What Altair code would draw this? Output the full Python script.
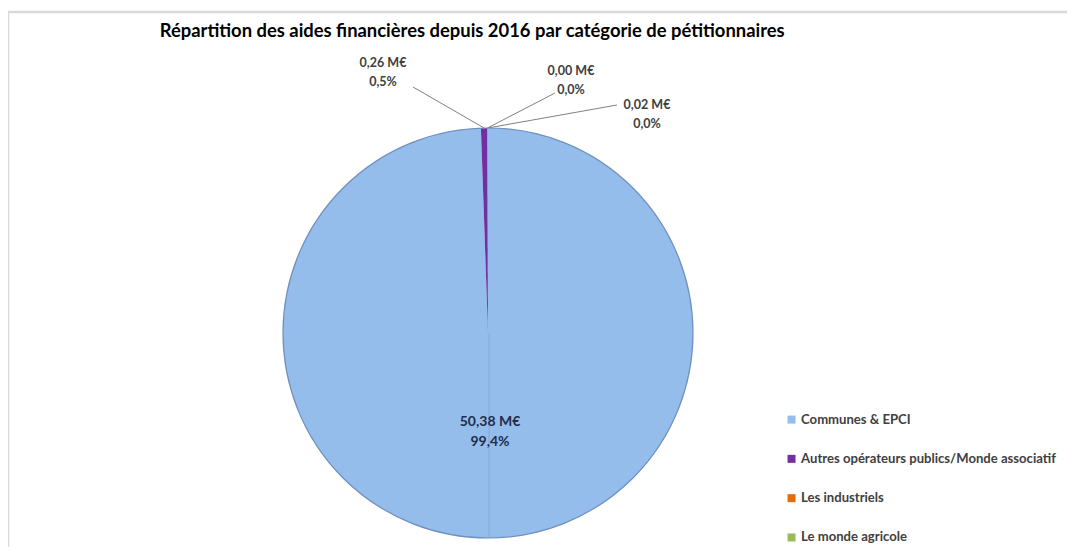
import math
import altair as alt
import pandas as pd

# ---- data ----
categories = ["Communes & EPCI",
              "Autres opérateurs publics/Monde associatif",
              "Les industriels",
              "Le monde agricole"]
values_meur = [50.38, 0.26, 0.00, 0.02]
colors = ["#95bdec", "#7030a0", "#e46c0a", "#9bbb59"]

title_text = "Répartition des aides financières depuis 2016 par catégorie de pétitionnaires"

# ---- layout (view pixels) ----
W, H = 1059, 535
CX, CY, R = 480, 321, 205
# first-line positions and leader start points for outside labels (by category index)
label_pos = {1: (375, 51), 2: (563, 59), 3: (639, 93)}
leader_start = {1: (405, 75), 2: (547, 81), 3: (609, 93)}
inner_label_offset = (2, 89)

total = sum(values_meur)
fracs = [v / total for v in values_meur]

def fr(v, nd):
    return f"{v:.{nd}f}".replace(".", ",")

texts = [f"{fr(v, 2)} M€\n{fr(f * 100, 1)}%" for v, f in zip(values_meur, fracs)]

# midpoint angle of each slice (clockwise from 12 o'clock)
mids = []
cum = 0.0
for f in fracs:
    mids.append((cum + f / 2) * 2 * math.pi)
    cum += f

pie_df = pd.DataFrame({"cat": categories, "val": values_meur, "idx": range(len(categories))})
circle_df = pd.DataFrame({"val": [total]})

lab_rows = []
lead_rows = []
for i, (t, a) in enumerate(zip(texts, mids)):
    if i == 0:
        lab_rows.append({"t": t, "x": CX + inner_label_offset[0], "y": CY + inner_label_offset[1]})
    else:
        x, y = label_pos[i]
        lab_rows.append({"t": t, "x": x, "y": y})
        sx, sy = leader_start[i]
        ex = CX + R * math.sin(a)
        ey = CY - R * math.cos(a)
        lead_rows.append({"x": sx, "y": sy, "x2": ex, "y2": ey})
lab_df = pd.DataFrame(lab_rows)
inner_df = lab_df.iloc[:1]
outer_df = lab_df.iloc[1:]
lead_df = pd.DataFrame(lead_rows)

FONT = "Lato"

pie = alt.Chart(pie_df).mark_arc(radius=R, strokeWidth=0).encode(
    theta=alt.Theta("val:Q", stack=True),
    order=alt.Order("idx:Q"),
    color=alt.Color("cat:N",
                    scale=alt.Scale(domain=categories, range=colors),
                    sort=categories,
                    legend=alt.Legend(title=None, orient="none", legendX=777, legendY=401,
                                      symbolType="square", symbolSize=64,
                                      labelFont=FONT, labelFontSize=13.1, labelFontWeight="bold",
                                      labelColor="#404040", rowPadding=25.3, labelLimit=400,
                                      labelOffset=3, symbolStrokeWidth=0)),
    x=alt.value(CX),
    y=alt.value(CY),
)

outline = alt.Chart(circle_df).mark_arc(radius=R, fillOpacity=0, stroke="#6f8fbd",
                                        strokeWidth=1.2).encode(
    theta=alt.Theta("val:Q"), x=alt.value(CX), y=alt.value(CY))

# faint bevel seam from centre to bottom, as in the source rendering
seam = alt.Chart(circle_df).mark_rule(color="#86a8d4", strokeWidth=1).encode(
    x=alt.value(CX + 1), y=alt.value(CY), y2=alt.value(CY + R))

leaders = alt.Chart(lead_df).mark_rule(color="#808080", strokeWidth=1).encode(
    x=alt.X("x:Q", scale=None), y=alt.Y("y:Q", scale=None),
    x2="x2:Q", y2="y2:Q",
)

outer_labels = alt.Chart(outer_df).mark_text(lineBreak="\n", font=FONT, fontSize=12.5,
                                             fontWeight="bold", align="center",
                                             baseline="middle", lineHeight=19,
                                             color="#404040").encode(
    x=alt.X("x:Q", scale=None), y=alt.Y("y:Q", scale=None), text="t:N")

inner_labels = alt.Chart(inner_df).mark_text(lineBreak="\n", font=FONT, fontSize=14,
                                             fontWeight="bold", align="center",
                                             baseline="middle", lineHeight=20,
                                             color="#1f2d4a").encode(
    x=alt.X("x:Q", scale=None), y=alt.Y("y:Q", scale=None), text="t:N")

frame_top = alt.Chart(circle_df).mark_rule(color="#d9d9d9", strokeWidth=2.5).encode(
    x=alt.value(0), x2=alt.value(W), y=alt.value(0))
frame_left = alt.Chart(circle_df).mark_rule(color="#d9d9d9", strokeWidth=2.5).encode(
    x=alt.value(0), y=alt.value(0), y2=alt.value(H))

chart = alt.layer(frame_top, frame_left, pie, seam, outline, leaders,
                  outer_labels, inner_labels).properties(
    width=W, height=H,
    autosize=alt.AutoSizeParams(type="none"),
    padding={"left": 0, "top": 4, "right": 0, "bottom": 0},
    title=alt.TitleParams(title_text, anchor="start", dx=153, offset=-45, baseline="alphabetic",
                          font=FONT, fontSize=18.4, fontWeight="bold", color="#000000"),
).configure_view(stroke=None).configure(background="white")

chart.save("out.html", embed_options={"renderer": "svg", "actions": False})
